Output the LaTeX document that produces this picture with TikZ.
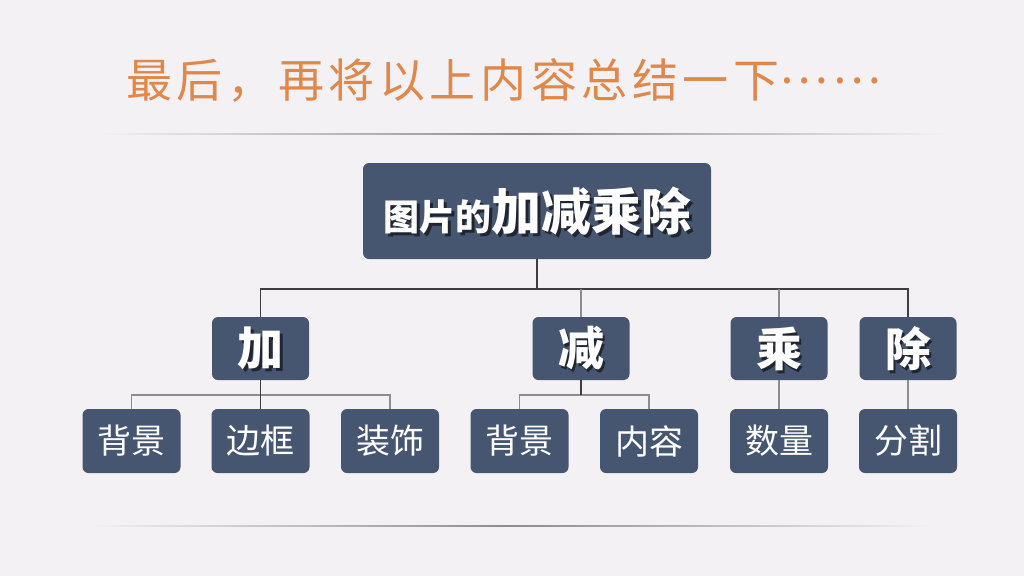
\documentclass[tikz,border=0pt]{standalone}
\usepackage{fontspec}
\newfontfamily\cjk{Noto Sans CJK SC}
\newfontfamily\cjktitle[LetterSpace=10]{Noto Sans CJK SC}
\definecolor{bg}{HTML}{F3F1F4}
\definecolor{boxc}{HTML}{465670}
\definecolor{orng}{HTML}{E0874A}
\definecolor{lineA}{HTML}{3E3E3E}
\definecolor{lineB}{HTML}{8C8C8C}
\definecolor{rulec}{HTML}{8E8A90}
\tikzset{
  bx/.style={fill=boxc, rounded corners=6pt, inner sep=0pt, text=white},
  mainbox/.style={bx, minimum width=348pt, minimum height=96pt},
  lvtwo/.style={bx, minimum width=97pt, minimum height=63pt},
  lvthree/.style={bx, minimum width=98pt, minimum height=64pt, font=\cjk\fontsize{34}{36}\selectfont},
  shadowtext/.style={text=black, opacity=0.55, inner sep=0pt},
  whitetext/.style={text=white, inner sep=0pt},
  conA/.style={draw=lineA, line width=1.3pt},
  conB/.style={draw=lineB, line width=1.5pt},
}
\begin{document}
\begin{tikzpicture}[x=1pt,y=-1pt]
\fill[bg] (0,0) rectangle (1024,576);
\useasboundingbox (0,0) rectangle (1024,576);
% title
\node[text=orng, inner sep=0pt, font=\cjktitle\fontsize{46}{50}\selectfont] (title) at (504,80) {最后，再将以上内容总结一下\raisebox{0.3em}{……}};
% rules
\shade[left color=bg, right color=bg, middle color=rulec] (100,133.4) rectangle (945,134.8);
\shade[left color=bg, right color=bg, middle color=rulec] (88,525.4) rectangle (932,526.8);
% main box
\node[mainbox] (main) at (537,211) {};
\node[shadowtext, font=\cjk\bfseries] (mainshadow) at (540,214) {\fontsize{36}{38}\selectfont 图片的\fontsize{50}{52}\selectfont 加减乘除};
\node[whitetext, font=\cjk\bfseries] (maintext) at (537,211) {\fontsize{36}{38}\selectfont 图片的\fontsize{50}{52}\selectfont 加减乘除};
% level 2
\foreach \n/\x/\t in {jia/260.5/加, jian/581/减, cheng/779/乘, chu/908/除}{
  \node[lvtwo] (\n) at (\x,348.5) {};
  \node[shadowtext, font=\cjk\bfseries\fontsize{46}{48}\selectfont] (\n s) at (\x+2.5,351.5) {\t};
  \node[whitetext, font=\cjk\bfseries\fontsize{46}{48}\selectfont] (\n t) at (\x,348.5) {\t};
}
% level 3
\node[lvthree] (a1) at (131.5,441) {背景};
\node[lvthree] (a2) at (260.5,441) {边框};
\node[lvthree] (a3) at (390,441) {装饰};
\node[lvthree] (b1) at (519.5,441) {背景};
\node[lvthree] (b2) at (649,441) {内容};
\node[lvthree] (c1) at (779,441) {数量};
\node[lvthree] (d1) at (908,441) {分割};
% connectors level 1
\coordinate (busA) at (537,289);
\draw[conA] (main.south) -- (busA);
\draw[conA] (jia.north) -- (jia.north |- busA) -- (chu.north |- busA) -- (chu.north);
\draw[conB] (jian.north) -- (jian.north |- busA);
\draw[conB] (cheng.north) -- (cheng.north |- busA);
% connectors level 2
\coordinate (busB) at (260,395);
\draw[conB] (a1.north) -- (a1.north |- busB) -- (a3.north |- busB) -- (a3.north);
\draw[conA] (jia.south) -- (a2.north);
\draw[conB] (b1.north) -- (b1.north |- busB) -- (b2.north |- busB) -- (b2.north);
\draw[conA] (jian.south) -- (jian.south |- busB);
\draw[conB] (cheng.south) -- (c1.north);
\draw[conB] (chu.south) -- (d1.north);
\end{tikzpicture}
\end{document}
